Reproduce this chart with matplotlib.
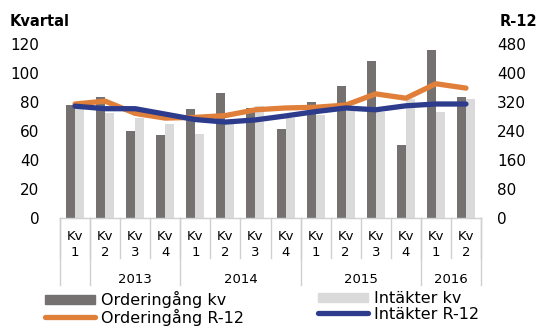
import matplotlib
matplotlib.use("Agg")
import matplotlib.pyplot as plt
from matplotlib.patches import Patch
from matplotlib.lines import Line2D
import numpy as np

plt.rcParams["font.family"] = ["DejaVu Sans"]

quarters = ["1", "2", "3", "4", "1", "2", "3", "4", "1", "2", "3", "4", "1", "2"]
# year groups: label i spans categories year_bounds[i] .. year_bounds[i+1]-1
year_labels = ["", "2013", "2014", "2015", "2016"]
year_bounds = [0, 1, 4, 8, 12, 14]

order_kv = [78, 83, 60, 57, 75, 86, 76, 61, 80, 91, 108, 50, 116, 83]
income_kv = [77, 72, 69, 65, 58, 65, 77, 69, 71, 74, 73, 82, 73, 82]
order_r12 = [314, 322, 288, 275, 277, 282, 298, 303, 305, 311, 342, 330, 370, 358]
income_r12 = [308, 301, 301, 286, 271, 264, 270, 281, 293, 303, 298, 309, 314, 314]

DARK = "#767171"
LIGHT = "#DADADA"
ORANGE = "#E07F3A"
BLUE = "#2C3B8C"
GRID = "#D0D0D0"

fig = plt.figure(figsize=(5.47, 3.27), dpi=100)
ax = fig.add_axes([60 / 547, 1 - 217.5 / 327, 421 / 547, 173.5 / 327])
ax2 = ax.twinx()

x = np.arange(len(quarters))
w = 0.3
ax.bar(x - w / 2, order_kv, w, color=DARK, zorder=2)
ax.bar(x + w / 2, income_kv, w, color=LIGHT, zorder=2)
ax2.plot(x, order_r12, color=ORANGE, lw=3.8, solid_joinstyle="round", solid_capstyle="round", zorder=3)
ax2.plot(x, income_r12, color=BLUE, lw=3.8, solid_joinstyle="round", solid_capstyle="round", zorder=4)

ax.set_xlim(-0.5, len(quarters) - 0.5)
ax.set_ylim(0, 120)
ax.set_yticks(range(0, 121, 20))
ax2.set_ylim(0, 480)
ax2.set_yticks(range(0, 481, 80))

for a in (ax, ax2):
    for s in a.spines.values():
        s.set_visible(False)
    a.tick_params(axis="y", length=0, labelsize=11, colors="black")
    a.set_xticks([])
ax.tick_params(axis="y", pad=15)
ax2.tick_params(axis="y", pad=11.5)

# category axis drawn by hand (multi-level labels)
tr = ax.get_xaxis_transform()
ax.plot([-0.5, len(quarters) - 0.5], [0, 0], color=GRID, lw=1.0, transform=tr, clip_on=False)
for i in range(len(quarters) + 1):
    ax.plot([i - 0.5, i - 0.5], [0, -0.235], color=GRID, lw=1.0, transform=tr, clip_on=False)
for b in year_bounds:
    ax.plot([b - 0.5, b - 0.5], [0, -0.39], color=GRID, lw=1.0, transform=tr, clip_on=False)
for i, q in enumerate(quarters):
    ax.text(i, -0.11, "Kv", transform=tr, ha="center", va="center", fontsize=9.5)
    ax.text(i, -0.20, q, transform=tr, ha="center", va="center", fontsize=9.5)
for lab, a0, a1 in zip(year_labels, year_bounds[:-1], year_bounds[1:]):
    if lab:
        ax.text((a0 + a1 - 1) / 2, -0.355, lab, transform=tr, ha="center", va="center", fontsize=9.5)

fig.text(10 / 547, 1 - 21.5 / 327, "Kvartal", fontsize=10.5, fontweight="bold", ha="left", va="center")
fig.text(500 / 547, 1 - 21.5 / 327, "R-12", fontsize=10.5, fontweight="bold", ha="left", va="center")

leg_kw = dict(
    loc="upper left", frameon=False, fontsize=11.5, handlelength=3.1, handleheight=0.55,
    handletextpad=0.42, labelspacing=0.04, borderpad=0, borderaxespad=0,
)
leg1 = fig.legend(
    [Patch(color=DARK), Line2D([], [], color=ORANGE, lw=3.8, solid_capstyle="round")],
    ["Orderingång kv", "Orderingång R-12"],
    bbox_to_anchor=(45 / 547, 1 - 291 / 327), **leg_kw,
)
leg2 = fig.legend(
    [Patch(color=LIGHT), Line2D([], [], color=BLUE, lw=3.8, solid_capstyle="round")],
    ["Intäkter kv", "Intäkter R-12"],
    bbox_to_anchor=(318 / 547, 1 - 291 / 327), **leg_kw,
)

fig.savefig("out.png", dpi=100)
